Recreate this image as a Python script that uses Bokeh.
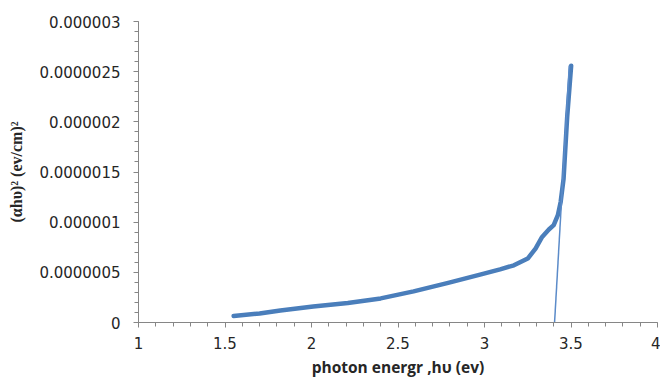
from bokeh.plotting import figure
from bokeh.models import FixedTicker
from bokeh.embed import file_html
from bokeh.resources import INLINE

# Data
energy = [1.55, 1.70, 1.82, 2.01, 2.21, 2.40, 2.59, 2.79, 2.98, 3.09, 3.17, 3.25, 3.295, 3.333,
          3.372, 3.40, 3.424, 3.440, 3.457, 3.478, 3.501]
alpha_hv_sq = [6.5e-8, 9e-8, 12e-8, 16e-8, 19.5e-8, 24e-8, 31e-8, 39.5e-8, 48e-8, 53e-8, 57e-8, 63.7e-8,
               73.7e-8, 85.3e-8, 92.7e-8, 97e-8, 107e-8, 120e-8, 143e-8, 205e-8, 256e-8]
tangent_x = [3.405, 3.49]
tangent_y = [0.0, 2.56e-6]

x_ticks = [1, 1.5, 2, 2.5, 3, 3.5, 4]
x_tick_labels = ["1", "1.5", "2", "2.5", "3", "3.5", "4"]
y_ticks = [0, 5e-7, 1e-6, 1.5e-6, 2e-6, 2.5e-6, 3e-6]
y_tick_labels = ["0", "0.0000005", "0.000001", "0.0000015", "0.000002", "0.0000025", "0.000003"]

x_title = "photon energr ,h\u03c5 (ev)"
y_title = "(\u03b1h\u03c5)\u00b2 (ev/cm)\u00b2"

p = figure(width=660, height=381, output_backend="svg", toolbar_location=None,
           x_range=(1, 4), y_range=(0, 3e-6),
           min_border_left=138, min_border_right=3, min_border_top=21, min_border_bottom=59)
p.outline_line_color = None
p.grid.grid_line_color = None
p.background_fill_color = "white"
p.border_fill_color = "white"

curve_color = "#4a7ebb"
p.line(energy, alpha_hv_sq, line_color=curve_color, line_width=4.5, line_cap="round", line_join="round")
p.line(tangent_x, tangent_y, line_color="#5b8bc9", line_width=1.5)

for ax in (p.xaxis[0], p.yaxis[0]):
    ax.axis_line_color = "#868686"
    ax.major_tick_line_color = "#868686"
    ax.minor_tick_line_color = "#868686"
    ax.major_tick_in = 0
    ax.major_tick_out = 5
    ax.minor_tick_in = 0
    ax.minor_tick_out = 4
    ax.major_label_text_font = "DejaVu Sans"
    ax.major_label_text_font_size = "15px"
    ax.major_label_text_color = "#262626"

minor_x = [round(1 + 0.1 * i, 2) for i in range(31)]
minor_y = [round(1e-7 * i, 10) for i in range(31)]
p.xaxis[0].ticker = FixedTicker(ticks=x_ticks, minor_ticks=minor_x)
p.yaxis[0].ticker = FixedTicker(ticks=y_ticks, minor_ticks=minor_y)
p.xaxis[0].major_label_overrides = {t: l for t, l in zip(x_ticks, x_tick_labels)}
p.yaxis[0].major_label_overrides = {t: l for t, l in zip(y_ticks, y_tick_labels)}
p.xaxis[0].major_label_standoff = 9
p.yaxis[0].major_label_standoff = 13

p.yaxis[0].axis_label = y_title
p.yaxis[0].axis_label_text_font = "Liberation Serif"
p.yaxis[0].axis_label_text_font_style = "bold"
p.yaxis[0].axis_label_text_font_size = "16px"
p.yaxis[0].axis_label_text_color = "#262626"
p.yaxis[0].axis_label_standoff = 11

p.xaxis[0].axis_label = x_title
p.xaxis[0].axis_label_text_font = "Open Sans"
p.xaxis[0].axis_label_text_font_style = "bold"
p.xaxis[0].axis_label_text_font_size = "15.5px"
p.xaxis[0].axis_label_text_color = "#262626"
p.xaxis[0].axis_label_standoff = 4

open("out.html", "w").write(file_html(p, INLINE))
